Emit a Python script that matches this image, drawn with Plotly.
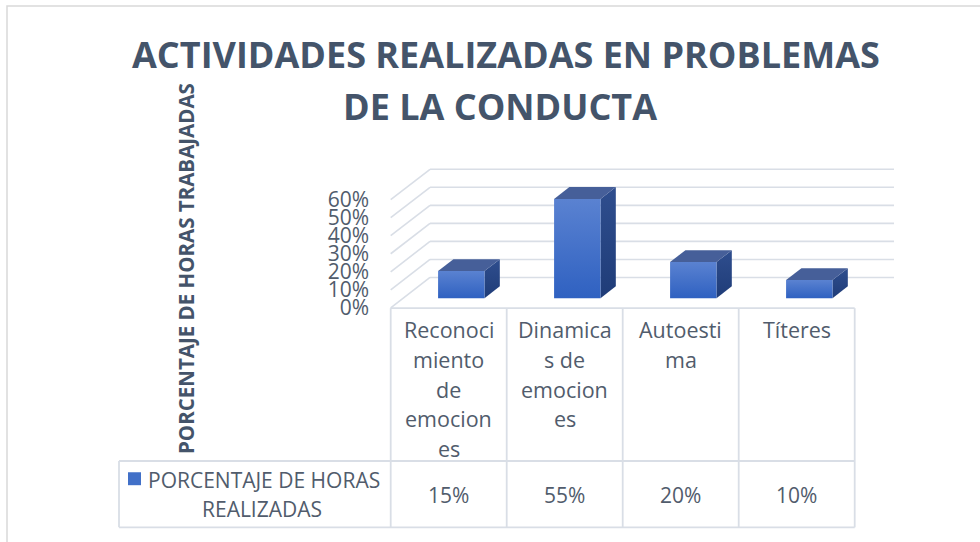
import plotly.graph_objects as go

# ---------------- data ----------------
categories = ["Reconocimiento de emociones", "Dinamicas de emociones", "Autoestima", "Títeres"]
category_lines = [["Reconoci", "miento", "de", "emocion", "es"],
                  ["Dinamica", "s de", "emocion", "es"],
                  ["Autoesti", "ma"],
                  ["Títeres"]]
values = [0.15, 0.55, 0.20, 0.10]
value_labels = ["15%", "55%", "20%", "10%"]
ytick_values = [0.0, 0.1, 0.2, 0.3, 0.4, 0.5, 0.6]
ytick_labels = ["0%", "10%", "20%", "30%", "40%", "50%", "60%"]
series_name = ["PORCENTAJE DE HORAS", "REALIZADAS"]
title_lines = ["ACTIVIDADES REALIZADAS EN PROBLEMAS", "DE LA CONDUCTA"]
y_title = "PORCENTAJE DE HORAS TRABAJADAS"

# ---------------- geometry / style ----------------
W, H = 980, 542
FONT = "Open Sans"
TITLE_COLOR = "#44546A"
TEXT_COLOR = "#515C6C"
GRID = "#D9DEE6"

# oblique 3D projection (depth 0 = front, 1 = back), in axis units
DX = 0.339      # x shift (category units) for full depth
DY = 0.1685     # y shift (value units) for full depth
HALF = 0.2      # half bar width
D0, D1 = 0.32, 0.71  # bar depth range


def proj(x, v, d):
    return x + d * DX, v + d * DY


def px(xp):
    return xp / W


def py(yp):
    return 1 - yp / H


fig = go.Figure()
n = len(categories)

# back wall gridlines + left wall diagonals
gx, gy = [], []
for v in ytick_values:
    x0, y0 = proj(-0.5, v, 1)
    x1, y1 = proj(n - 0.5, v, 1)
    gx += [x0, x1, None]
    gy += [y0, y1, None]
    xa, ya = proj(-0.5, v, 0)
    gx += [xa, x0, None]
    gy += [ya, y0, None]
fig.add_trace(go.Scatter(x=gx, y=gy, mode="lines", line=dict(color=GRID, width=1.6),
                         hoverinfo="skip", showlegend=False))

# 3D bars
for i, v in enumerate(values):
    l, r = i - HALF, i + HALF
    # side face
    pts = [proj(r, 0, D0), proj(r, v, D0), proj(r, v, D1), proj(r, 0, D1), proj(r, 0, D0)]
    fig.add_trace(go.Scatter(x=[p[0] for p in pts], y=[p[1] for p in pts], mode="lines",
                             fill="toself", line=dict(width=0, color="rgba(0,0,0,0)"),
                             fillgradient=dict(type="vertical",
                                               colorscale=[[0, "#1F3C78"], [1, "#2F4E8E"]]),
                             hoverinfo="skip", showlegend=False))
    # top face
    pts = [proj(l, v, D0), proj(r, v, D0), proj(r, v, D1), proj(l, v, D1), proj(l, v, D0)]
    fig.add_trace(go.Scatter(x=[p[0] for p in pts], y=[p[1] for p in pts], mode="lines",
                             fill="toself", line=dict(width=0, color="rgba(0,0,0,0)"),
                             fillcolor="#465F99", hoverinfo="skip", showlegend=False))
    # front face
    pts = [proj(l, 0, D0), proj(r, 0, D0), proj(r, v, D0), proj(l, v, D0), proj(l, 0, D0)]
    fig.add_trace(go.Scatter(x=[p[0] for p in pts], y=[p[1] for p in pts], mode="lines",
                             fill="toself", line=dict(width=0, color="rgba(0,0,0,0)"),
                             fillgradient=dict(type="vertical",
                                               colorscale=[[0, "#2F61C1"], [1, "#5A82D1"]]),
                             hoverinfo="skip", showlegend=False,
                             name=categories[i]))

# axes placement (pixel based domains)
X_LEFT, X_RIGHT = 370, 910
Y_TOP, Y_BOT = 150, 320
X_C0, X_STEP = 448.7, 116.0      # pixel of category 0 centre, pixels per category
Y_ZERO, Y_SCALE = 309.0, 181.0   # pixel of value 0 (front), pixels per unit value

fig.update_layout(
    width=W, height=H,
    margin=dict(l=0, r=0, t=0, b=0),
    paper_bgcolor="white", plot_bgcolor="rgba(0,0,0,0)",
    showlegend=False,
    xaxis=dict(domain=[px(X_LEFT), px(X_RIGHT)],
               range=[(X_LEFT - X_C0) / X_STEP, (X_RIGHT - X_C0) / X_STEP],
               visible=False, fixedrange=True),
    yaxis=dict(domain=[py(Y_BOT), py(Y_TOP)],
               range=[(Y_ZERO - Y_BOT) / Y_SCALE, (Y_ZERO - Y_TOP) / Y_SCALE],
               tickvals=ytick_values, ticktext=ytick_labels,
               showgrid=False, zeroline=False, showline=False, ticks="",
               tickfont=dict(family=FONT, size=21, color=TEXT_COLOR), fixedrange=True),
)

shapes = []
LINE = dict(color=GRID, width=1.8)
# outer chart border
shapes.append(dict(type="rect", xref="paper", yref="paper", x0=px(7), x1=px(990), y0=py(560), y1=py(6),
                   line=dict(color="#D9D9D9", width=1.5)))
# data table
T_TOP, T_MID, T_BOT = 309.3, 462.7, 529.3
T_LEFT = 119
col_edges = [X_C0 + (k - 0.5) * X_STEP for k in range(n + 1)]
shapes.append(dict(type="line", xref="paper", yref="paper", x0=px(col_edges[0]), x1=px(col_edges[-1]),
                   y0=py(T_TOP), y1=py(T_TOP), line=LINE))
shapes.append(dict(type="line", xref="paper", yref="paper", x0=px(T_LEFT), x1=px(col_edges[-1]),
                   y0=py(T_MID), y1=py(T_MID), line=LINE))
shapes.append(dict(type="line", xref="paper", yref="paper", x0=px(T_LEFT), x1=px(col_edges[-1]),
                   y0=py(T_BOT), y1=py(T_BOT), line=LINE))
shapes.append(dict(type="line", xref="paper", yref="paper", x0=px(T_LEFT), x1=px(T_LEFT),
                   y0=py(T_MID), y1=py(T_BOT), line=LINE))
for e in col_edges:
    shapes.append(dict(type="line", xref="paper", yref="paper", x0=px(e), x1=px(e),
                       y0=py(T_TOP), y1=py(T_BOT), line=LINE))
# legend key
shapes.append(dict(type="rect", xref="paper", yref="paper", x0=px(128), x1=px(141), y0=py(487), y1=py(474),
                   line=dict(width=0), fillcolor="#4170C8"))
fig.update_layout(shapes=shapes)

ann = []
# title
ann.append(dict(text=f"<b>{title_lines[0]}</b>", xref="paper", yref="paper", x=px(506), y=py(55),
                showarrow=False, xanchor="center", yanchor="middle",
                font=dict(family=FONT, size=36, color=TITLE_COLOR)))
ann.append(dict(text=f"<b>{title_lines[1]}</b>", xref="paper", yref="paper", x=px(500), y=py(107),
                showarrow=False, xanchor="center", yanchor="middle",
                font=dict(family=FONT, size=36, color=TITLE_COLOR)))
# y axis title
ann.append(dict(text=f"<b>{y_title}</b>", xref="paper", yref="paper", x=px(186), y=py(270),
                textangle=-90, showarrow=False, xanchor="center", yanchor="middle",
                font=dict(family=FONT, size=20.5, color=TITLE_COLOR)))
# category header cells
for i, lines in enumerate(category_lines):
    for k, t in enumerate(lines):
        ann.append(dict(text=t, xref="x", yref="paper", x=i, y=py(331 + 29.8 * k),
                        showarrow=False, xanchor="center", yanchor="middle",
                        font=dict(family=FONT, size=21.5, color=TEXT_COLOR)))
# value cells
for i, t in enumerate(value_labels):
    ann.append(dict(text=t, xref="x", yref="paper", x=i, y=py(497), showarrow=False,
                    xanchor="center", yanchor="middle",
                    font=dict(family=FONT, size=21, color=TEXT_COLOR)))
# legend cell text
ann.append(dict(text=series_name[0], xref="paper", yref="paper", x=px(146), y=py(481.5),
                showarrow=False, xanchor="left", yanchor="middle",
                font=dict(family=FONT, size=21, color=TEXT_COLOR)))
ann.append(dict(text=series_name[1], xref="paper", yref="paper", x=px(262), y=py(511),
                showarrow=False, xanchor="center", yanchor="middle",
                font=dict(family=FONT, size=21, color=TEXT_COLOR)))
fig.update_layout(annotations=ann)

fig.write_html("out.html")
